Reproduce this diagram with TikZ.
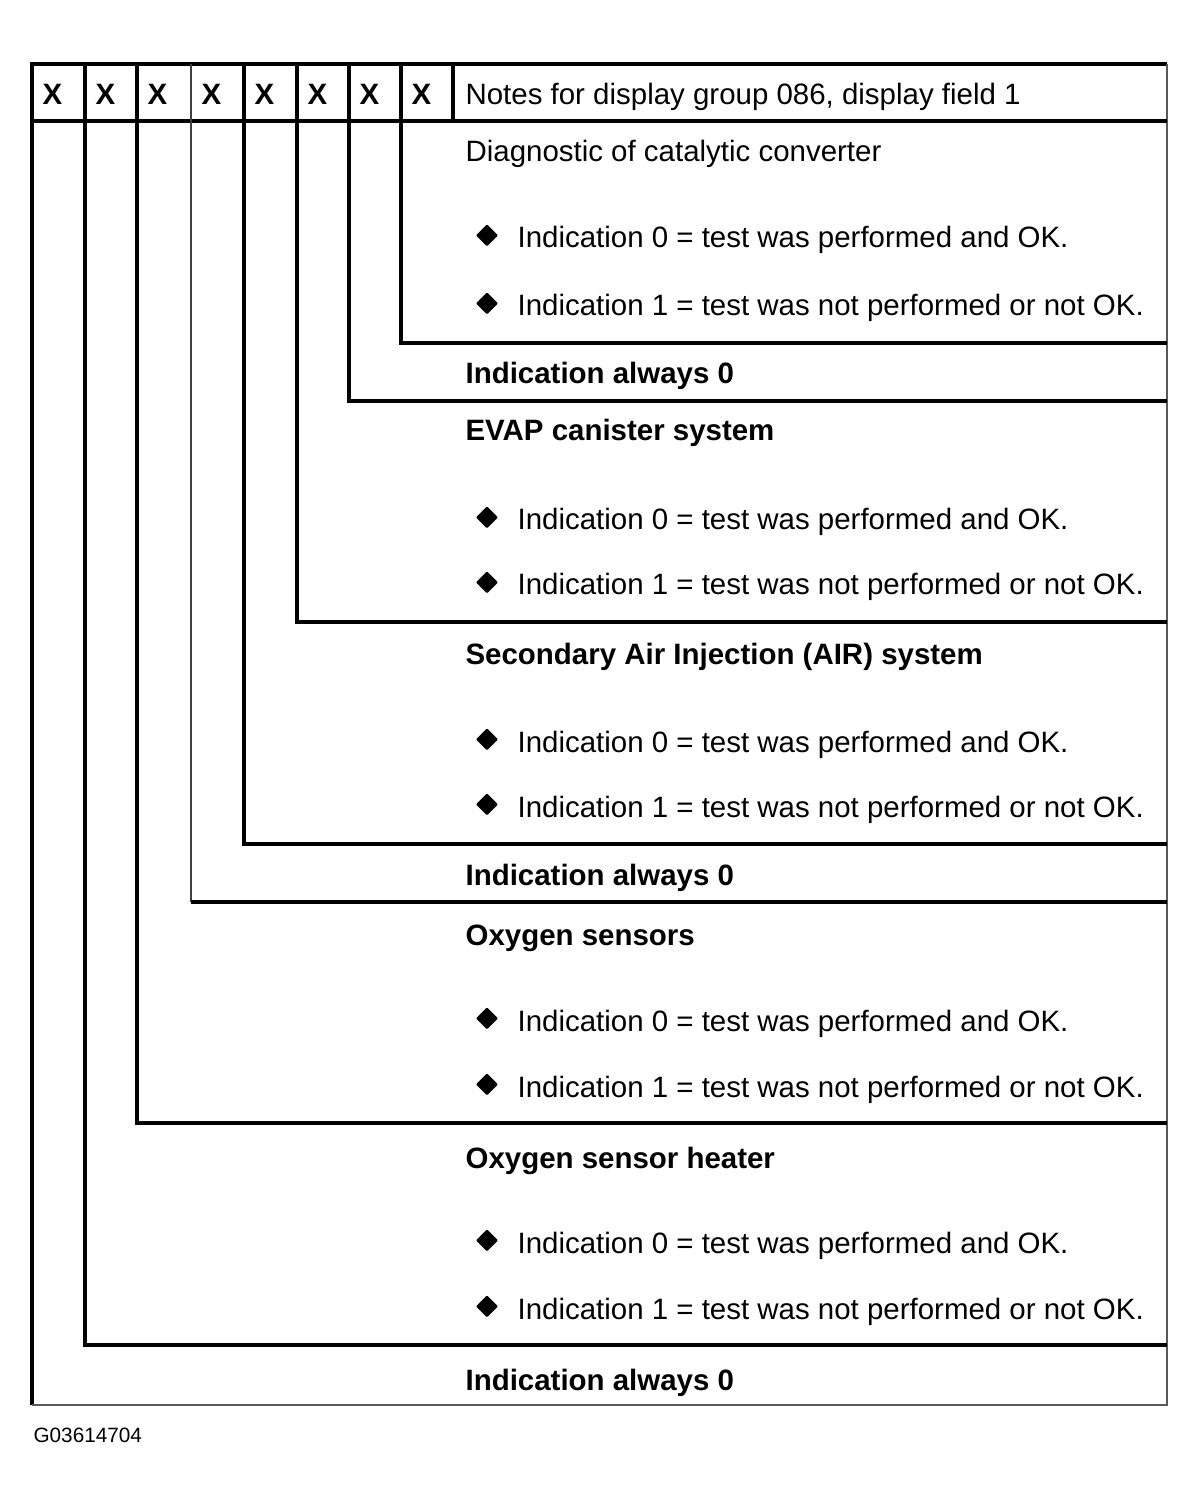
\documentclass[tikz,border=0pt]{standalone}
\usepackage{fontspec}
\setmainfont{Liberation Sans}
\usepackage{tikz}
\usetikzlibrary{positioning}
\usetikzlibrary{shapes}

\begin{document}
\begin{tikzpicture}[line width=0.9pt,
  txt/.style={anchor=base west,inner sep=0pt,font=\fontsize{8.38pt}{10pt}\selectfont},
  bold/.style={txt,font=\fontsize{8.38pt}{10pt}\selectfont\bfseries},
  dot/.style={diamond,fill=black,draw=black,line width=0.6pt,line join=round,inner sep=0pt,minimum size=0.2cm}]

\useasboundingbox (0,0) rectangle (12,-15.05);

%FRAME
\draw[draw=black] (11.67,-0.64) -- (0.32,-0.64) -- (0.32,-14.05);
\draw[draw=black!65,line width=0.45pt] (0.32,-14.05) -- (11.67,-14.05) -- (11.67,-0.64);
\draw[draw=black] (0.32,-1.21) -- (11.67,-1.21);

%COLUMNS
\draw[draw=black] (0.85,-0.64) |- (11.67,-13.45);
\draw[draw=black] (1.37,-0.64) |- (11.67,-11.23);
\draw[draw=black!75,line width=0.5pt] (1.91,-0.64) -- (1.91,-9.02);
\draw[draw=black] (1.91,-9.02) -- (11.67,-9.02);
\draw[draw=black] (2.44,-0.64) |- (11.67,-8.44);
\draw[draw=black] (2.97,-0.64) |- (11.67,-6.22);
\draw[draw=black] (3.49,-0.64) |- (11.67,-4.01);
\draw[draw=black] (4.01,-0.64) |- (11.67,-3.43);
\draw[draw=black] (4.53,-0.64) -- (4.53,-1.21);

%HEAD
\node[bold](x1)at(0.41,-1.05){X};
\node[bold](x2)at(0.94,-1.05){X};
\node[bold](x3)at(1.46,-1.05){X};
\node[bold](x4)at(2.00,-1.05){X};
\node[bold](x5)at(2.53,-1.05){X};
\node[bold](x6)at(3.06,-1.05){X};
\node[bold](x7)at(3.58,-1.05){X};
\node[bold](x8)at(4.10,-1.05){X};
\node[txt](notes-label)at(4.64,-1.05){Notes for display group 086, display field 1};

%LABELs
\node[txt](cat-label)at(4.64,-1.62){Diagnostic of catalytic converter};
\node[txt](cat0-label)at(5.16,-2.48){Indication 0 = test was performed and OK.};
\node[dot,left=0.18cm of cat0-label,yshift=0.05cm](cat0-dot){};
\node[txt](cat1-label)at(5.16,-3.16){Indication 1 = test was not performed or not OK.};
\node[dot,left=0.18cm of cat1-label,yshift=0.05cm](cat1-dot){};

\node[bold](zero-a-label)at(4.64,-3.84){Indication always 0};

\node[bold](evap-label)at(4.64,-4.41){EVAP canister system};
\node[txt](evap0-label)at(5.16,-5.30){Indication 0 = test was performed and OK.};
\node[dot,left=0.18cm of evap0-label,yshift=0.05cm](evap0-dot){};
\node[txt](evap1-label)at(5.16,-5.95){Indication 1 = test was not performed or not OK.};
\node[dot,left=0.18cm of evap1-label,yshift=0.05cm](evap1-dot){};

\node[bold](air-label)at(4.64,-6.64){Secondary Air Injection (AIR) system};
\node[txt](air0-label)at(5.16,-7.52){Indication 0 = test was performed and OK.};
\node[dot,left=0.18cm of air0-label,yshift=0.05cm](air0-dot){};
\node[txt](air1-label)at(5.16,-8.17){Indication 1 = test was not performed or not OK.};
\node[dot,left=0.18cm of air1-label,yshift=0.05cm](air1-dot){};

\node[bold](zero-b-label)at(4.64,-8.85){Indication always 0};

\node[bold](o2-label)at(4.64,-9.45){Oxygen sensors};
\node[txt](o20-label)at(5.16,-10.31){Indication 0 = test was performed and OK.};
\node[dot,left=0.18cm of o20-label,yshift=0.05cm](o20-dot){};
\node[txt](o21-label)at(5.16,-10.97){Indication 1 = test was not performed or not OK.};
\node[dot,left=0.18cm of o21-label,yshift=0.05cm](o21-dot){};

\node[bold](heat-label)at(4.64,-11.68){Oxygen sensor heater};
\node[txt](heat0-label)at(5.16,-12.53){Indication 0 = test was performed and OK.};
\node[dot,left=0.18cm of heat0-label,yshift=0.05cm](heat0-dot){};
\node[txt](heat1-label)at(5.16,-13.19){Indication 1 = test was not performed or not OK.};
\node[dot,left=0.18cm of heat1-label,yshift=0.05cm](heat1-dot){};

\node[bold](zero-c-label)at(4.64,-13.90){Indication always 0};

%ID
\node[txt,font=\fontsize{5.9pt}{7pt}\selectfont](id-label)at(0.32,-14.42){G03614704};

\end{tikzpicture}
\end{document}
